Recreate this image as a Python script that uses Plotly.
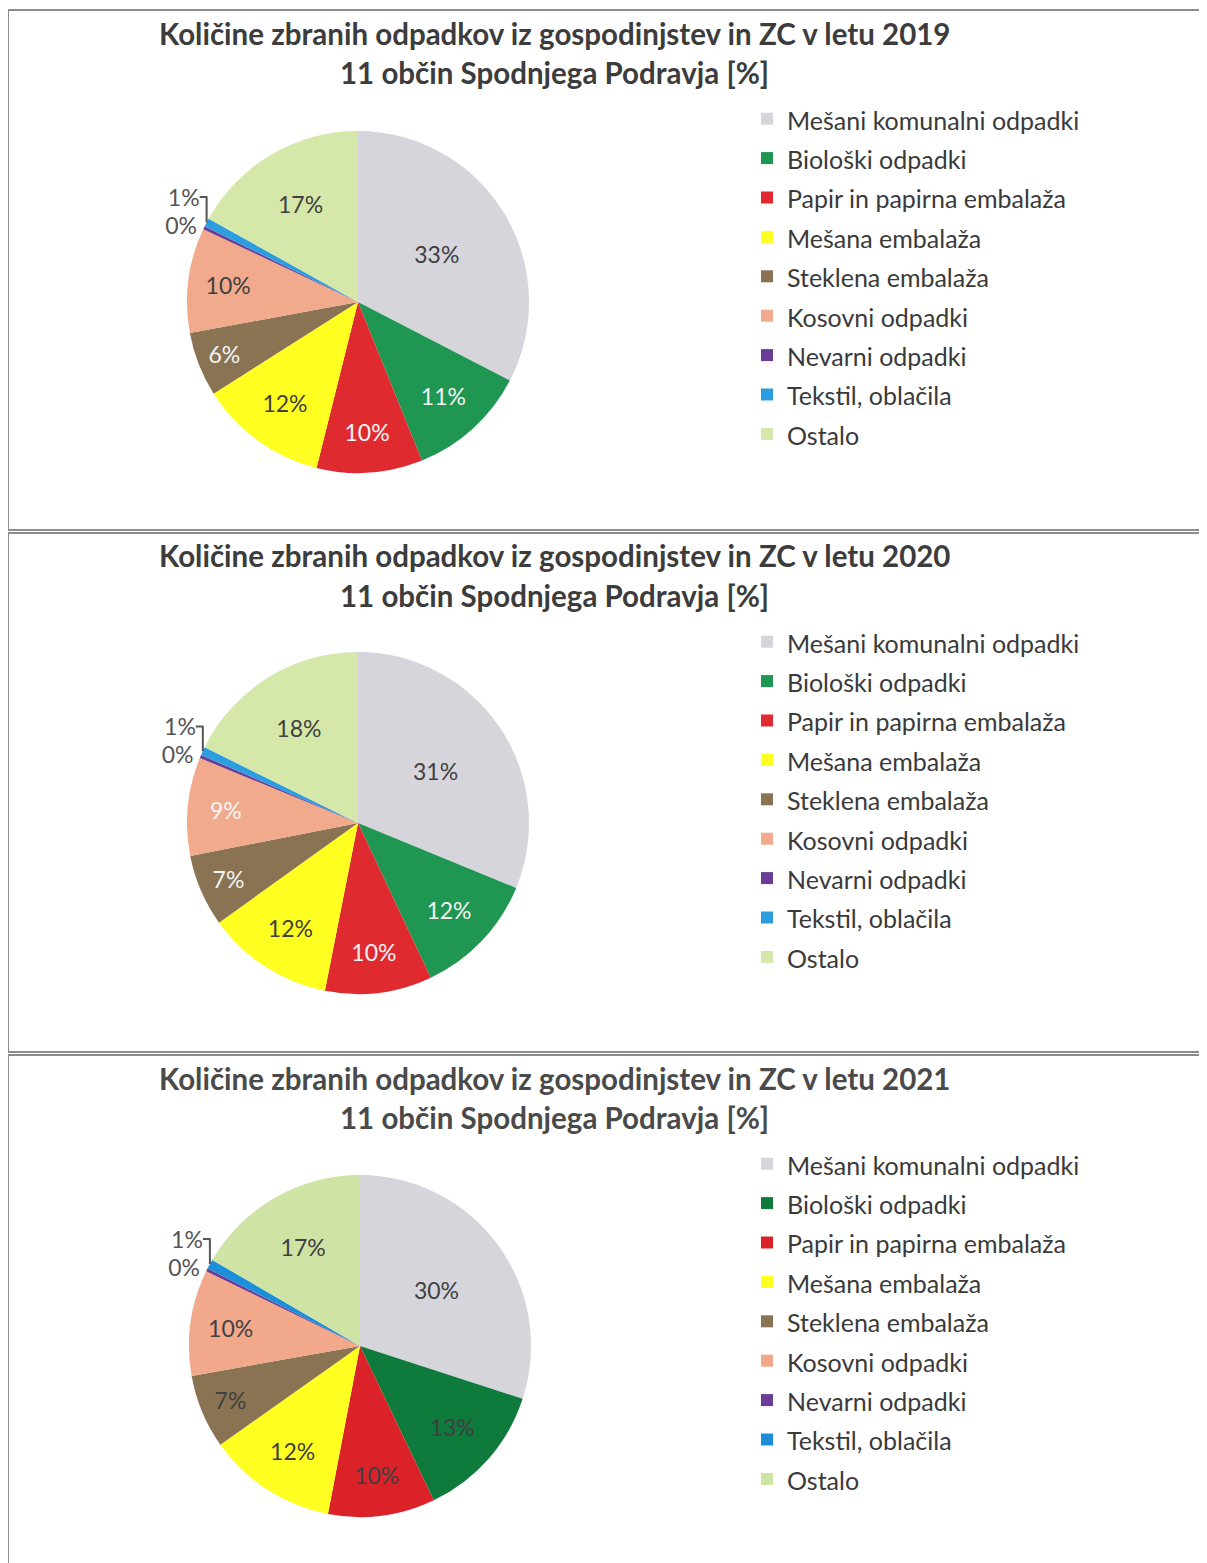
import plotly.graph_objects as go

# page has an 8px body margin; work in page pixels and convert
OFF = 8
W, H = 1207, 1563

categories = [
    "Mešani komunalni odpadki",
    "Biološki odpadki",
    "Papir in papirna embalaža",
    "Mešana embalaža",
    "Steklena embalaža",
    "Kosovni odpadki",
    "Nevarni odpadki",
    "Tekstil, oblačila",
    "Ostalo",
]

years = ["2019", "2020", "2021"]
values_2019 = [32.6, 11.3, 10.0, 12.1, 6.1, 9.9, 0.3, 0.8, 16.9]
values_2020 = [31.2, 11.8, 10.1, 12.0, 6.8, 9.3, 0.3, 0.8, 17.7]
values_2021 = [30.0, 12.9, 10.1, 12.2, 7.0, 10.0, 0.3, 0.9, 16.6]
title_line1 = "Količine zbranih odpadkov iz gospodinjstev in ZC v letu {}"
title_line2 = "11 občin Spodnjega Podravja [%]"

# ---- styles ----
colors = ["#D6D5DC", "#1F9651", "#DF2A30", "#FFFF22", "#8A7353",
          "#F2AA8C", "#6B3D97", "#2C9EDF", "#D5E8A9"]
colors_2021 = ["#D6D5DC", "#0E7A3C", "#DA2228", "#FFFF22", "#8A7353",
               "#F2A88A", "#6B3D97", "#1B8FD8", "#CFE3A4"]
DARK = "#404040"
LIGHT = "#F4F4F4"
txtcol_a = [DARK, LIGHT, LIGHT, DARK, LIGHT, DARK, DARK, DARK, DARK]
txtcol_b = [DARK, LIGHT, LIGHT, DARK, LIGHT, LIGHT, DARK, DARK, DARK]
txtcol_c = [DARK] * 9
positions = ["inside"] * 6 + ["outside", "outside", "inside"]


def px(x):
    return (x - OFF) / W


def py(y):
    return 1 - (y - OFF) / H


panels = [
    dict(vals=values_2019, cols=colors, tc=txtcol_a, cx=358, cy=302, top=10, bot=530, leg="legend"),
    dict(vals=values_2020, cols=colors, tc=txtcol_b, cx=358, cy=823, top=533, bot=1052, leg="legend2"),
    dict(vals=values_2021, cols=colors_2021, tc=txtcol_c, cx=360, cy=1346, top=1055, bot=1590, leg="legend3"),
]

R = 171
FONT = "Lato, 'Open Sans', sans-serif"

fig = go.Figure()
shapes, annotations = [], []
layout_legends = {}

for i, (yr, p) in enumerate(zip(years, panels)):
    cx, cy = p["cx"], p["cy"]
    fig.add_trace(go.Pie(
        labels=[f'<span style="font-size:25px">{c}</span>' for c in categories],
        values=p["vals"],
        sort=False,
        direction="clockwise",
        rotation=0,
        marker=dict(colors=p["cols"], line=dict(width=0)),
        texttemplate="%{percent:.0%}",
        textposition=positions,
        insidetextorientation="horizontal",
        textfont=dict(family=FONT, size=23, color=p["tc"]),
        outsidetextfont=dict(family=FONT, size=23, color="#555555"),
        domain=dict(x=[px(cx - R), px(cx + R)],
                    y=[py(cy + R), py(cy - R)]),
        legend=p["leg"],
        legendgroup=f"g{yr}",
        showlegend=True,
        hoverinfo="label+percent",
    ))
    # panel border
    shapes.append(dict(type="rect", xref="paper", yref="paper",
                       x0=px(8), x1=1.02, y0=py(p["bot"]), y1=py(p["top"]),
                       line=dict(color="#8C8C8C", width=2), fillcolor="rgba(0,0,0,0)"))
    # titles
    tcol = "#3C3C3C" if i < 2 else "#4A4A4A"
    annotations.append(dict(text=f"<b>{title_line1.format(yr)}</b>", xref="paper", yref="paper",
                            x=px(554), y=py(p["top"] + 23), xanchor="center", yanchor="middle",
                            showarrow=False, font=dict(family=FONT, size=29.5, color=tcol)))
    annotations.append(dict(text=f"<b>{title_line2}</b>", xref="paper", yref="paper",
                            x=px(554), y=py(p["top"] + 62), xanchor="center", yanchor="middle",
                            showarrow=False, font=dict(family=FONT, size=29.5, color=tcol)))
    layout_legends[p["leg"]] = dict(
        x=px(747), xanchor="left",
        y=py(p["top"] + 84), yanchor="top",
        font=dict(family=FONT, size=28, color="#3A3A3A"),
        bgcolor="rgba(0,0,0,0)",
        traceorder="normal",
    )

fig.update_layout(
    width=W, height=H,
    margin=dict(l=0, r=0, t=0, b=0),
    paper_bgcolor="white",
    plot_bgcolor="white",
    shapes=shapes,
    annotations=annotations,
    uniformtext=dict(minsize=23, mode="show"),
    **layout_legends,
)

fig.write_html("out.html")
